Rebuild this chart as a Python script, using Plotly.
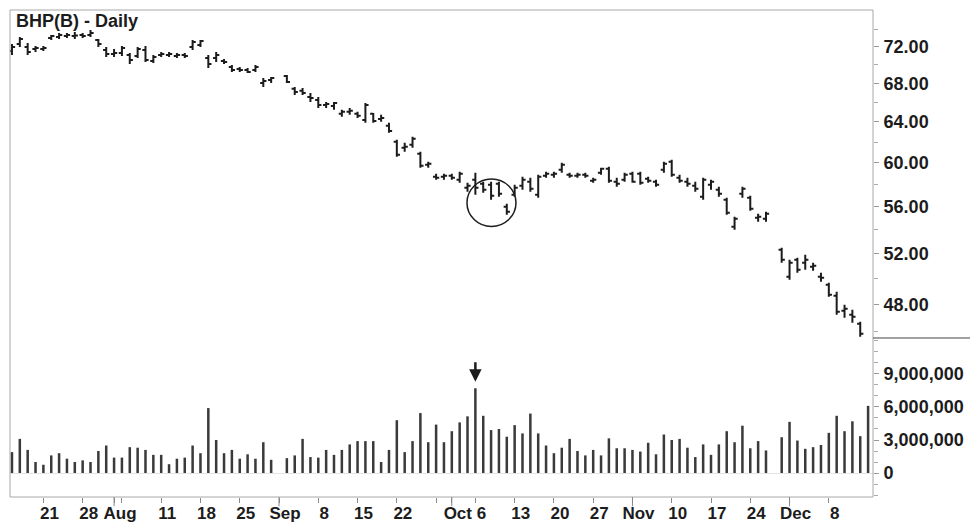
import math
import plotly.graph_objects as go

# trading days (Sep 1 and Nov 27 are holidays, left empty)
dates = [
    "2014-07-15", "2014-07-16", "2014-07-17", "2014-07-18", "2014-07-21", "2014-07-22", "2014-07-23",
    "2014-07-24", "2014-07-25", "2014-07-28", "2014-07-29", "2014-07-30", "2014-07-31",
    "2014-08-01", "2014-08-04", "2014-08-05", "2014-08-06", "2014-08-07", "2014-08-08", "2014-08-11",
    "2014-08-12", "2014-08-13", "2014-08-14", "2014-08-15", "2014-08-18", "2014-08-19", "2014-08-20",
    "2014-08-21", "2014-08-22", "2014-08-25", "2014-08-26", "2014-08-27", "2014-08-28", "2014-08-29",
    "2014-09-02", "2014-09-03", "2014-09-04", "2014-09-05", "2014-09-08", "2014-09-09", "2014-09-10",
    "2014-09-11", "2014-09-12", "2014-09-15", "2014-09-16", "2014-09-17", "2014-09-18", "2014-09-19",
    "2014-09-22", "2014-09-23", "2014-09-24", "2014-09-25", "2014-09-26", "2014-09-29", "2014-09-30",
    "2014-10-01", "2014-10-02", "2014-10-03", "2014-10-06", "2014-10-07", "2014-10-08", "2014-10-09",
    "2014-10-10", "2014-10-13", "2014-10-14", "2014-10-15", "2014-10-16", "2014-10-17", "2014-10-20",
    "2014-10-21", "2014-10-22", "2014-10-23", "2014-10-24", "2014-10-27", "2014-10-28", "2014-10-29",
    "2014-10-30", "2014-10-31",
    "2014-11-03", "2014-11-04", "2014-11-05", "2014-11-06", "2014-11-07", "2014-11-10", "2014-11-11",
    "2014-11-12", "2014-11-13", "2014-11-14", "2014-11-17", "2014-11-18", "2014-11-19", "2014-11-20",
    "2014-11-21", "2014-11-24", "2014-11-25", "2014-11-26", "2014-11-28",
    "2014-12-01", "2014-12-02", "2014-12-03", "2014-12-04", "2014-12-05", "2014-12-08", "2014-12-09",
    "2014-12-10", "2014-12-11", "2014-12-12", "2014-12-15",
]

open_ = [
    71.55, 72.34, 72.00, 71.77, 71.77, 73.03, 73.14, 73.26, 73.26, 73.37, 73.37, 72.80, 71.66,
    71.21, 71.32, 71.10, 70.99, 71.66, 70.43, 71.10, 71.10, 70.99, 71.10, 72.00, 72.23, 70.77, 70.77,
    70.43, 69.77, 69.55, 69.44, 69.44, 68.04, 68.36,
    68.79, 67.41, 67.20, 66.56, 66.25, 65.73, 65.63, 64.81, 65.02, 64.81, 64.20, 64.81, 64.30, 63.60,
    62.03, 61.44, 61.73, 60.87, 59.82, 58.70, 58.70,
    58.80, 58.43, 57.70, 58.43, 58.06, 57.97, 58.06, 56.00, 57.07, 57.88, 58.24, 57.07, 58.80, 58.89,
    59.35, 58.89, 58.80, 58.89, 58.34, 59.07, 59.45, 58.24, 58.43,
    58.98, 58.98, 58.52, 58.24, 59.35, 60.10, 58.61, 58.24, 57.88, 56.89, 57.97, 57.52, 56.62, 54.27,
    57.16, 56.80, 55.04, 54.96, 52.34,
    50.16, 51.52, 51.28, 50.96, 50.16, 49.54, 48.69, 47.56, 47.25, 46.59,
]
high = [
    72.34, 73.14, 72.46, 72.11, 72.11, 73.37, 73.60, 73.60, 73.72, 73.60, 73.95, 72.91, 72.00,
    71.77, 72.11, 71.32, 72.00, 72.11, 71.10, 71.44, 71.44, 71.32, 71.32, 72.80, 72.80, 71.10, 71.44,
    70.65, 69.99, 69.77, 69.66, 69.99, 68.58, 68.68,
    68.90, 67.62, 67.51, 66.98, 66.56, 66.04, 66.04, 65.22, 65.42, 65.02, 65.94, 64.91, 64.71, 63.90,
    62.22, 61.93, 62.51, 61.06, 60.10, 58.98, 58.98,
    58.98, 59.17, 58.15, 59.07, 58.24, 58.24, 58.24, 56.27, 57.97, 58.70, 58.61, 58.89, 59.17, 59.17,
    60.01, 59.07, 59.07, 59.07, 58.61, 59.54, 59.63, 58.61, 59.07,
    59.17, 59.17, 58.70, 58.43, 60.10, 60.29, 58.89, 58.61, 58.24, 58.61, 58.43, 57.79, 56.80, 55.13,
    57.79, 56.98, 55.39, 55.56, 52.50,
    51.52, 51.68, 51.93, 51.28, 50.48, 49.70, 48.99, 48.00, 47.63, 46.73,
]
low = [
    71.10, 72.00, 71.10, 71.44, 71.55, 72.80, 72.91, 73.03, 72.91, 73.03, 73.14, 72.00, 70.88,
    70.88, 70.99, 70.10, 70.77, 70.32, 70.21, 70.88, 70.88, 70.77, 70.77, 71.66, 72.00, 69.66, 70.32,
    70.10, 69.23, 69.23, 69.12, 69.23, 67.62, 68.04,
    68.04, 66.77, 66.77, 66.04, 65.42, 65.42, 65.22, 64.51, 64.71, 64.40, 63.90, 63.90, 64.00, 62.91,
    60.58, 61.06, 61.44, 59.54, 59.54, 58.43, 58.43,
    58.43, 58.15, 57.34, 57.07, 57.25, 56.62, 56.89, 55.30, 56.89, 57.52, 57.34, 56.80, 58.61, 58.61,
    59.07, 58.61, 58.61, 58.61, 58.15, 58.89, 58.15, 57.79, 58.24,
    58.15, 57.97, 58.15, 57.79, 59.07, 58.70, 58.15, 57.79, 57.34, 56.62, 57.52, 56.89, 55.30, 54.01,
    56.80, 55.65, 54.70, 54.70, 51.28,
    49.93, 50.48, 50.72, 50.64, 49.77, 48.62, 47.25, 47.03, 46.66, 45.65,
]
close = [
    72.00, 72.91, 71.44, 71.89, 71.89, 73.26, 73.37, 73.37, 73.30, 73.26, 73.60, 72.34, 71.21,
    71.32, 71.89, 70.54, 71.77, 70.54, 70.88, 71.21, 71.21, 71.10, 70.99, 72.57, 72.68, 70.10, 71.10,
    70.32, 69.44, 69.44, 69.23, 69.77, 68.25, 68.58,
    68.15, 67.09, 66.98, 66.46, 65.73, 65.83, 65.94, 65.02, 65.12, 64.61, 65.73, 64.10, 64.40, 63.10,
    60.77, 61.54, 62.32, 59.73, 59.91, 58.61, 58.80,
    58.61, 58.98, 57.88, 57.70, 57.52, 56.98, 57.16, 55.56, 57.70, 58.43, 57.61, 58.70, 58.98, 58.98,
    59.82, 58.80, 58.89, 58.80, 58.43, 59.45, 58.34, 58.06, 58.89,
    58.24, 58.15, 58.34, 57.97, 59.91, 58.89, 58.34, 58.06, 57.61, 58.43, 58.24, 57.16, 55.48, 54.96,
    57.61, 55.83, 55.13, 55.39, 51.52,
    51.28, 50.72, 51.52, 51.04, 50.08, 48.77, 47.48, 47.70, 47.10, 45.86,
]
volume = [
    1900000, 3100000, 2100000, 1000000, 750000, 1600000, 1800000, 1300000, 1000000, 1150000,
    1000000, 2000000, 2500000,
    1400000, 1400000, 2350000, 2300000, 2100000, 1650000, 1650000, 800000, 1300000, 1400000,
    2500000, 1800000, 5900000, 3000000, 1800000, 2100000, 1300000, 1700000, 1300000, 2800000, 1200000,
    1350000, 1600000, 3100000, 1450000, 1400000, 2100000, 1650000, 2100000, 2600000, 2900000,
    2900000, 2900000, 1000000, 2100000, 4800000, 1900000, 2900000, 5450000, 2800000, 4400000, 2800000,
    3800000, 4600000, 5150000, 7700000, 5200000, 3900000, 4000000, 3300000, 4350000, 3600000,
    5400000, 3600000, 2500000, 1800000, 2300000, 3100000, 2000000, 1600000, 2100000, 1600000,
    3150000, 2250000, 2250000,
    2100000, 1950000, 2750000, 1700000, 3500000, 3000000, 3100000, 2300000, 1450000, 2600000,
    1650000, 2600000, 3800000, 2800000, 4300000, 2250000, 2900000, 2050000, 3250000,
    4650000, 2950000, 2200000, 2350000, 2550000, 3650000, 5200000, 3800000, 4700000, 3350000, 6100000,
]

price_ticks = [48, 52, 56, 60, 64, 68, 72]
price_minor = [46, 50, 54, 58, 62, 66, 70, 74]
volume_ticks = [0, 3000000, 6000000, 9000000]
x_tickvals = ["2014-07-21", "2014-07-28", "2014-08-01", "2014-08-04", "2014-08-11", "2014-08-18",
              "2014-08-25", "2014-09-01", "2014-09-08", "2014-09-15", "2014-09-22", "2014-09-29",
              "2014-10-01", "2014-10-06", "2014-10-13", "2014-10-20", "2014-10-27", "2014-11-03",
              "2014-11-10", "2014-11-17", "2014-11-24", "2014-12-01", "2014-12-08"]
x_ticktext = ["21", "28", "Aug", "", "11", "18", "25", "Sep", "8", "15", "22", "",
              "Oct", "6", "13", "20", "27", "Nov", "10", "17", "24", "Dec", "8"]
month_starts = ["2014-08-01", "2014-09-01", "2014-10-01", "2014-11-03", "2014-12-01"]

FONT = "Liberation Sans, Arial, Helvetica, sans-serif"
INK = "#1c1c1c"
SPLIT = 0.3265  # volume pane height / plot height
label_font = dict(size=18, family=FONT, color=INK, weight="bold")

price_dates = dates[:len(close)]

fig = go.Figure()
fig.add_trace(go.Ohlc(
    x=price_dates, open=open_, high=high, low=low, close=close,
    increasing=dict(line=dict(color=INK, width=2)),
    decreasing=dict(line=dict(color=INK, width=2)),
    tickwidth=0.4,
    xaxis="x", yaxis="y",
))
fig.add_trace(go.Bar(
    x=dates, y=volume,
    marker=dict(color="#3a3a3a", line=dict(width=0)),
    width=0.32 * 86400000,
    xaxis="x2", yaxis="y2",
))

breaks = [dict(bounds=["sat", "mon"])]
xrange = ["2014-07-14 18:00", "2014-12-15 15:00"]

# frame, pane divider on the right, circle round the Oct 6-10 bars
shapes = [
    dict(type="rect", xref="paper", yref="paper", x0=0, x1=1, y0=0, y1=1,
         line=dict(color="#a8a8a8", width=1)),
    dict(type="line", xref="paper", yref="paper", x0=1, x1=1.15, y0=SPLIT, y1=SPLIT,
         line=dict(color="#444444", width=1)),
    dict(type="circle", xref="paper", yref="paper", x0=0.5295, x1=0.5863,
         y0=0.5554, y1=0.653, line=dict(color=INK, width=1.5)),
]
for d in month_starts:
    shapes.append(dict(type="line", xref="x2", yref="paper", x0=d, x1=d, y0=0, y1=-0.019,
                       line=dict(color="#888888", width=1)))

fig.update_layout(
    width=970, height=527,
    margin=dict(l=10, r=97, t=10, b=30, autoexpand=False),
    paper_bgcolor="white", plot_bgcolor="white",
    showlegend=False,
    font=dict(family=FONT, color=INK),
    xaxis=dict(domain=[0, 1], anchor="y", matches="x2", range=xrange, rangebreaks=breaks,
               showticklabels=False, showgrid=False, zeroline=False, ticks="",
               automargin=False, rangeslider=dict(visible=False)),
    xaxis2=dict(domain=[0, 1], anchor="y2", range=xrange, rangebreaks=breaks,
                tickmode="array", tickvals=x_tickvals, ticktext=x_ticktext,
                ticks="outside", ticklen=5, tickcolor="#888888",
                ticklabelshift=6, ticklabelstandoff=-4, automargin=False,
                tickfont=dict(label_font, size=17),
                showgrid=False, zeroline=False, showline=False),
    yaxis=dict(domain=[SPLIT, 1], anchor="x", side="right", type="log",
               range=[math.log10(45.56), math.log10(76.31)],
               tickmode="array", tickvals=price_ticks, tickformat=".2f",
               ticks="outside", ticklen=5, tickcolor="#999999", ticklabelstandoff=1,
               minor=dict(tickmode="array", tickvals=price_minor, ticks="outside",
                          ticklen=4, tickcolor="#aaaaaa"),
               tickfont=label_font, automargin=False,
               showgrid=False, zeroline=False),
    yaxis2=dict(domain=[0, SPLIT], anchor="x2", side="right",
                range=[-2180000, 12270000],
                tickmode="array", tickvals=volume_ticks, tickformat=",",
                ticks="outside", ticklen=5, tickcolor="#999999", ticklabelstandoff=1,
                minor=dict(dtick=1000000, tick0=0, ticks="outside", ticklen=4,
                           tickcolor="#aaaaaa"),
                tickfont=label_font, automargin=False,
                showgrid=False, zeroline=True, zerolinecolor="#e4e4e4", zerolinewidth=1),
    shapes=shapes,
    annotations=[
        dict(text="BHP(B) - Daily", xref="paper", yref="paper", x=0, y=1.0,
             xanchor="left", yanchor="top", xshift=4, yshift=1, showarrow=False,
             font=label_font),
        dict(text="", xref="x2", yref="y2", x="2014-10-06", y=8300000,
             ax=0, ay=-21, showarrow=True, arrowhead=2, arrowsize=1,
             arrowwidth=2.5, arrowcolor=INK),
    ],
)

# the page's default body margin would push the figure 8px right/down
fig.write_html("out.html", config={"displayModeBar": False},
               post_script="document.body.style.margin='0';")
